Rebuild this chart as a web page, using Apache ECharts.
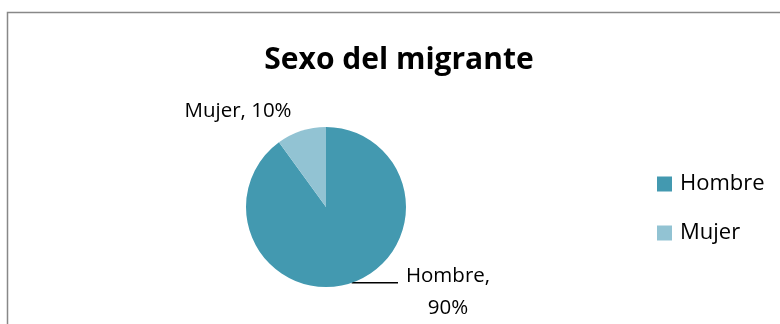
<!DOCTYPE html>
<html>
<head>
<meta charset="utf-8">
<script src="https://cdn.jsdelivr.net/npm/echarts@6/dist/echarts.min.js"></script>
<style>
html,body{margin:0;padding:0;background:#fff;}
#chart{width:780px;height:324px;}
</style>
</head>
<body>
<div id="chart"></div>
<script>
const titleText = 'Sexo del migrante';
const categories = ['Hombre', 'Mujer'];
const values = [90, 10];
const colors = ['#4399B0', '#92C3D3'];

const cx = 326, cy = 207, r = 80;
const chart = echarts.init(document.getElementById('chart'));
const textFont = 'Open Sans';

chart.setOption({
  animation: false,
  graphic: [{
    type: 'rect',
    shape: { x: 7.5, y: 12.5, width: 900, height: 500 },
    style: { fill: 'none', stroke: '#888888', lineWidth: 1.5 },
    silent: true
  }],
  title: {
    text: titleText,
    left: 399,
    top: 45,
    padding: 0,
    textAlign: 'center',
    textStyle: { fontFamily: textFont, fontWeight: 'bold', fontSize: 30, color: '#000' }
  },
  legend: {
    orient: 'vertical',
    left: 657,
    top: 173,
    padding: 0,
    itemWidth: 15,
    itemHeight: 15,
    itemGap: 27,
    icon: 'rect',
    data: categories,
    textStyle: { fontFamily: textFont, fontSize: 22, color: '#000', padding: [0, 0, 0, 3] }
  },
  series: [{
    type: 'pie',
    center: [cx, cy],
    radius: r,
    startAngle: 90,
    clockwise: true,
    itemStyle: { borderWidth: 0 },
    label: {
      show: true,
      fontFamily: textFont,
      fontSize: 20.5,
      color: '#000'
    },
    labelLine: { show: true, lineStyle: { color: '#000', width: 1.5 } },
    labelLayout: function (p) {
      if (p.dataIndex === 0) {
        const th = 18.7 * Math.PI / 180;
        const ex = cx + r * Math.sin(th), ey = cy + r * Math.cos(th);
        return {
          x: cx + 122, y: cy + 85, align: 'center', verticalAlign: 'middle',
          labelLinePoints: [[ex, ey], [cx + 72, ey], [cx + 72, ey]]
        };
      }
      return { x: cx - 88, y: cy - 96, align: 'center', verticalAlign: 'middle' };
    },
    data: categories.map((c, i) => ({
      name: c,
      value: values[i],
      itemStyle: { color: colors[i] },
      label: i === 0
        ? { formatter: '{b},\n{c}%', lineHeight: 32, align: 'center' }
        : { formatter: '{b}, {c}%' },
      labelLine: { show: i === 0 }
    }))
  }]
});
</script>
</body>
</html>
